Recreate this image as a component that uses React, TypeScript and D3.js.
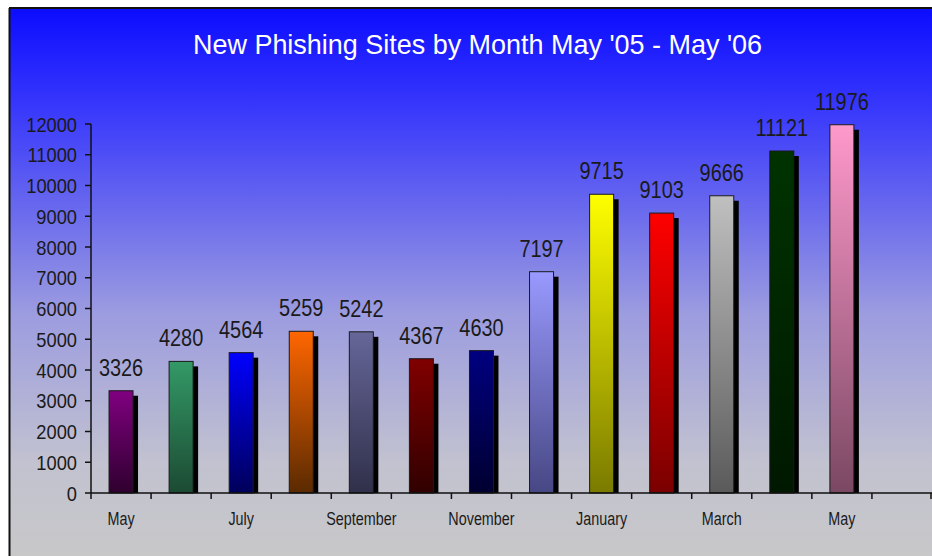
import React, { useEffect, useRef } from 'react';
import * as d3 from 'd3';

const months = ['May', 'Jun', 'Jul', 'Aug', 'Sep', 'Oct', 'Nov', 'Dec', 'Jan', 'Feb', 'Mar', 'Apr', 'May2', 'blank'];
const axisLabels = ['May', '', 'July', '', 'September', '', 'November', '', 'January', '', 'March', '', 'May', ''];
const sites = [3326, 4280, 4564, 5259, 5242, 4367, 4630, 7197, 9715, 9103, 9666, 11121, 11976];
const topColors = ['#800080', '#339966', '#0000ff', '#ff6600', '#666699', '#800000', '#000080', '#9999ff', '#ffff00', '#ff0000', '#c0c0c0', '#003300', '#ff99cc'];
const bottomColors = ['#2e002e', '#1c4a33', '#00005a', '#5a2a00', '#30304a', '#300000', '#000030', '#474784', '#7a7a00', '#7a0000', '#5a5a5a', '#001800', '#7a4862'];
const yTicks = [0, 1000, 2000, 3000, 4000, 5000, 6000, 7000, 8000, 9000, 10000, 11000, 12000];

const App = () => {
  const svgRef = useRef<SVGSVGElement>(null);

  useEffect(() => {
    const width = 932;
    const height = 556;
    const svg = d3.select(svgRef.current).attr('width', width).attr('height', height);
    svg.selectAll('*').remove();

    const defs = svg.append('defs');
    const bg = defs.append('linearGradient').attr('id', 'bg').attr('x1', 0).attr('y1', 0).attr('x2', 0).attr('y2', 1);
    [[0, '#0c0cff'], [0.18, '#3838fc'], [0.55, '#9c9ce0'], [0.82, '#c2c2d0'], [1, '#c8c8c8']].forEach(([o, c]) => {
      bg.append('stop').attr('offset', o as number).attr('stop-color', c as string);
    });

    topColors.forEach((c, i) => {
      const g = defs.append('linearGradient').attr('id', `bar${i}`).attr('x1', 0).attr('y1', 0).attr('x2', 0).attr('y2', 1);
      g.append('stop').attr('offset', 0).attr('stop-color', c);
      g.append('stop').attr('offset', 1).attr('stop-color', bottomColors[i]);
    });

    // frame
    svg.append('rect').attr('x', 0).attr('y', 0).attr('width', width).attr('height', height).attr('fill', '#fff');
    svg.append('rect').attr('x', 9).attr('y', 8).attr('width', width).attr('height', height).attr('fill', 'url(#bg)');
    svg.append('line').attr('x1', 9).attr('x2', width).attr('y1', 8).attr('y2', 8).attr('stroke', '#111').attr('stroke-width', 2);
    svg.append('line').attr('x1', 9.5).attr('x2', 9.5).attr('y1', 8).attr('y2', height).attr('stroke', '#111').attr('stroke-width', 2);

    const x = d3.scaleBand().domain(months).range([91, 932]).padding(0);
    const y = d3.scaleLinear().domain([0, 12000]).range([493, 124]);
    const barW = 24;
    const off = 5;

    svg.append('text')
      .attr('x', 477.5).attr('y', 53.5)
      .attr('text-anchor', 'middle')
      .attr('font-family', 'Liberation Sans, Arial, sans-serif')
      .attr('font-size', 28)
      .attr('fill', '#fff')
      .attr('textLength', 569)
      .attr('lengthAdjust', 'spacingAndGlyphs')
      .text("New Phishing Sites by Month May '05 - May '06");

    const bars = svg.append('g');
    sites.forEach((v, i) => {
      const cx = (x(months[i]) as number) + x.bandwidth() / 2;
      const x0 = cx - barW / 2;
      bars.append('rect')
        .attr('x', x0 + off).attr('y', y(v) + off)
        .attr('width', barW).attr('height', y(0) - y(v) - off)
        .attr('fill', '#000');
      bars.append('rect')
        .attr('x', x0).attr('y', y(v))
        .attr('width', barW).attr('height', y(0) - y(v))
        .attr('fill', `url(#bar${i})`)
        .attr('stroke', '#1a1a1a').attr('stroke-width', 1);
      bars.append('text')
        .attr('transform', `translate(${cx},${y(v) - 15}) scale(0.83,1)`)
        .attr('text-anchor', 'middle')
        .attr('font-family', 'Liberation Sans, Arial, sans-serif')
        .attr('font-size', 24)
        .attr('fill', '#1a1a1a')
        .text(v);
    });

    // y axis
    const ya = svg.append('g');
    ya.append('line').attr('x1', 91).attr('x2', 91).attr('y1', y(12000)).attr('y2', y(0)).attr('stroke', '#111').attr('stroke-width', 1.5);
    yTicks.forEach(t => {
      ya.append('line').attr('x1', 85).attr('x2', 91).attr('y1', y(t)).attr('y2', y(t)).attr('stroke', '#111').attr('stroke-width', 1.5);
      ya.append('text')
        .attr('transform', `translate(77,${y(t) + 7.5}) scale(0.87,1)`)
        .attr('text-anchor', 'end')
        .attr('font-family', 'Liberation Sans, Arial, sans-serif')
        .attr('font-size', 21)
        .attr('fill', '#1a1a1a')
        .text(t);
    });

    // x axis
    const xa = svg.append('g');
    xa.append('line').attr('x1', 91).attr('x2', 932).attr('y1', y(0)).attr('y2', y(0)).attr('stroke', '#111').attr('stroke-width', 1.5);
    months.forEach((m, i) => {
      const bx = x(m) as number;
      xa.append('line').attr('x1', bx).attr('x2', bx).attr('y1', y(0)).attr('y2', y(0) + 6).attr('stroke', '#111').attr('stroke-width', 1.5);
      if (axisLabels[i]) {
        xa.append('text')
          .attr('transform', `translate(${bx + x.bandwidth() / 2},525) scale(0.82,1)`)
          .attr('text-anchor', 'middle')
          .attr('font-family', 'Liberation Sans, Arial, sans-serif')
          .attr('font-size', 17.5)
          .attr('fill', '#1a1a1a')
          .text(axisLabels[i]);
      }
    });
    xa.append('line').attr('x1', 931).attr('x2', 931).attr('y1', y(0)).attr('y2', y(0) + 6).attr('stroke', '#111').attr('stroke-width', 1.5);
  }, []);

  return (
    <svg ref={svgRef} style={{ position: 'absolute', left: 0, top: 0 }}></svg>
  );
};

export default App;
